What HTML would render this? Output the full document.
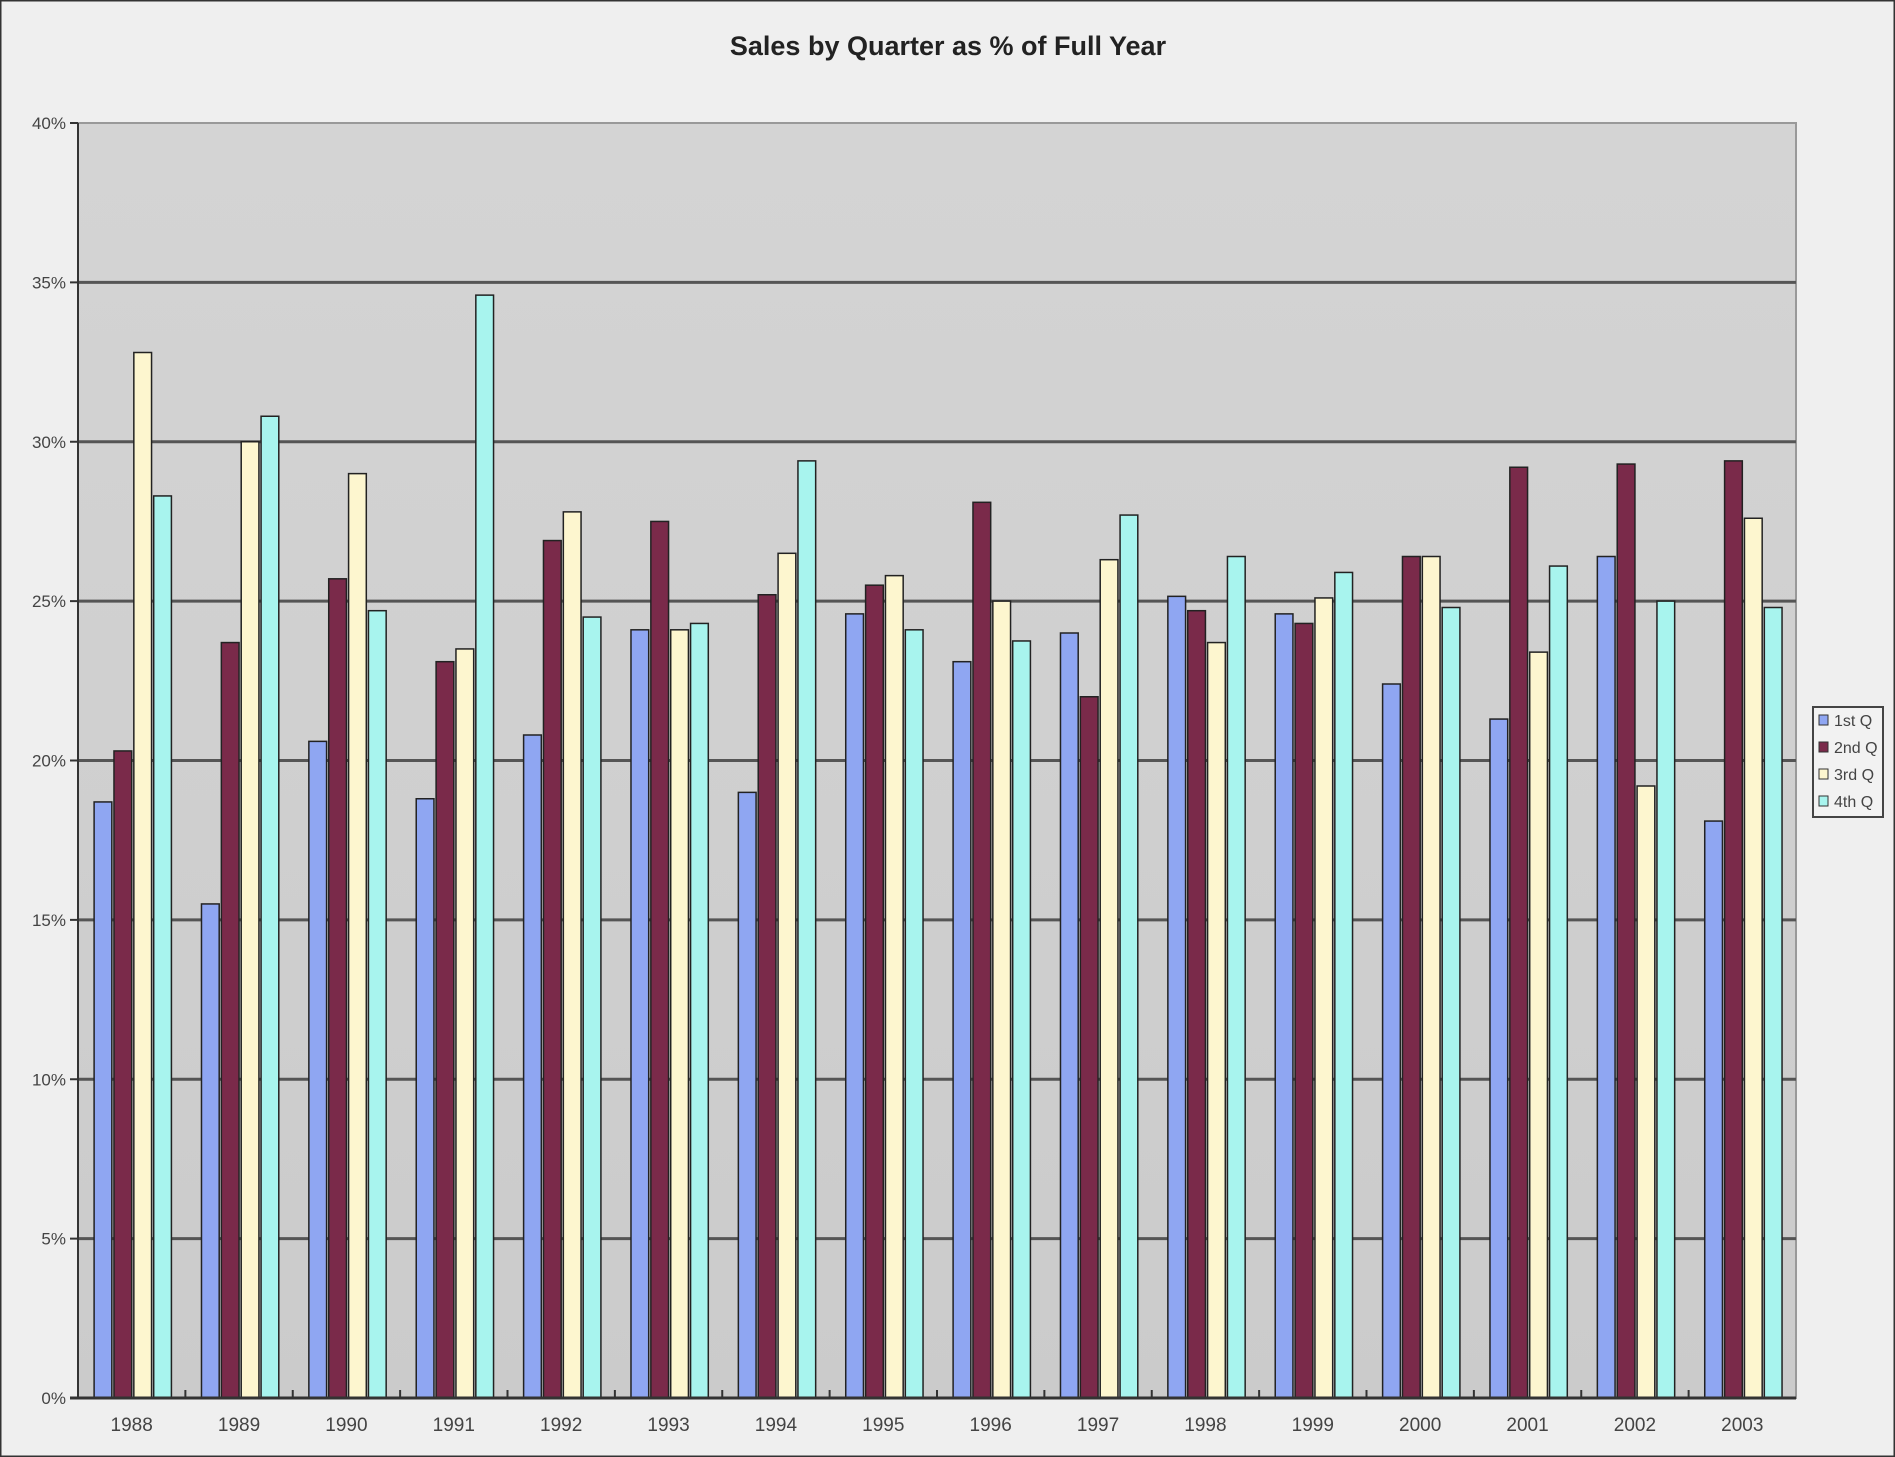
<!DOCTYPE html>
<html><head><meta charset="utf-8"><style>
body{margin:0;background:#efefef;}
svg{display:block;font-family:"Liberation Sans",sans-serif;}
</style></head><body>
<svg id="chart" width="1895" height="1457">
<rect x="0" y="0" width="1895" height="1457" fill="#efefef" stroke="#333" stroke-width="3"/>
<text x="948" y="55" text-anchor="middle" font-size="27" font-weight="bold" fill="#222">Sales by Quarter as % of Full Year</text>
<defs><linearGradient id="pg" x1="0" y1="0" x2="0" y2="1"><stop offset="0" stop-color="#d4d4d4"/><stop offset="1" stop-color="#cbcbcb"/></linearGradient></defs>
<rect x="78" y="123" width="1718" height="1275" fill="url(#pg)" stroke="#999" stroke-width="2"/>
<g id="grid"></g><g id="bars"></g><g id="axes"></g>
<g>
<rect x="1813" y="707" width="70" height="110" fill="#f2f2f2" stroke="#444" stroke-width="2"/>
<g id="legend"></g></g>
</svg>
<script>
const years=["1988","1989","1990","1991","1992","1993","1994","1995","1996","1997","1998","1999","2000","2001","2002","2003"];
const q1=[18.7,15.5,20.6,18.8,20.8,24.1,19.0,24.6,23.1,24.0,25.15,24.6,22.4,21.3,26.4,18.1];
const q2=[20.3,23.7,25.7,23.1,26.9,27.5,25.2,25.5,28.1,22.0,24.7,24.3,26.4,29.2,29.3,29.4];
const q3=[32.8,30.0,29.0,23.5,27.8,24.1,26.5,25.8,25.0,26.3,23.7,25.1,26.4,23.4,19.2,27.6];
const q4=[28.3,30.8,24.7,34.6,24.5,24.3,29.4,24.1,23.75,27.7,26.4,25.9,24.8,26.1,25.0,24.8];
const seriesNames=["1st Q","2nd Q","3rd Q","4th Q"];
const yTicks=[0,5,10,15,20,25,30,35,40];
const colors=["#8fa6f2","#7a2a4a","#fdf6cf","#a8f4ee"];
const NS="http://www.w3.org/2000/svg";
const X0=78,X1=1796,Y0=1398,Y1=123,MAXV=40;
const cw=(X1-X0)/years.length;
const y=v=>Y0-(v/MAXV)*(Y0-Y1);
const xc=i=>X0+i*cw;
function mk(t,a,p){const e=document.createElementNS(NS,t);for(const k in a)e.setAttribute(k,a[k]);p.appendChild(e);return e;}
const grid=document.getElementById('grid'),axes=document.getElementById('axes'),bars=document.getElementById('bars'),leg=document.getElementById('legend');
yTicks.forEach(v=>{
  if(v>0&&v<40){const l=mk('line',{x1:X0,x2:X1,y1:y(v),y2:y(v),stroke:'#555','stroke-width':3},grid);
  
  }
  mk('line',{x1:X0-8,x2:X0,y1:y(v),y2:y(v),stroke:'#333','stroke-width':2},axes);
  const t=mk('text',{x:X0-12,y:y(v)+6,'text-anchor':'end','font-size':17,fill:'#444'},axes);
  t.textContent=v+'%';
  
  
});
const series=[q1,q2,q3,q4];
const bw=cw*0.165,gap=cw*0.02,off=cw*0.15;
years.forEach((yr,i)=>{
  series.forEach((s,j)=>{
    const bx=xc(i)+off+j*(bw+gap);
    const r=mk('rect',{x:bx,y:y(s[i]),width:bw,height:Y0-y(s[i]),fill:colors[j],stroke:'#222','stroke-width':1.5},bars);
    
    
  });
  if(i>0)mk('line',{x1:xc(i),x2:xc(i),y1:Y0,y2:Y0-8,stroke:'#333','stroke-width':2},axes);
  const t=mk('text',{x:xc(i)+cw/2,y:Y0+33,'text-anchor':'middle','font-size':19,fill:'#444'},axes);
  t.textContent=yr;
  
  
});
mk('line',{x1:X0,x2:X0,y1:Y1,y2:Y0,stroke:'#333','stroke-width':2},axes);
mk('line',{x1:X0-8,x2:X1,y1:Y0,y2:Y0,stroke:'#333','stroke-width':3},axes);
seriesNames.forEach((n,j)=>{
  const yy=722+j*27;
  const r=mk('rect',{x:1819,y:yy-7,width:9,height:10,fill:colors[j],stroke:'#333','stroke-width':1},leg);
  
  
  const t=mk('text',{x:1834,y:yy+4,'font-size':16,fill:'#444'},leg);
  t.textContent=n;
  
  
});
</script>
</body></html>
